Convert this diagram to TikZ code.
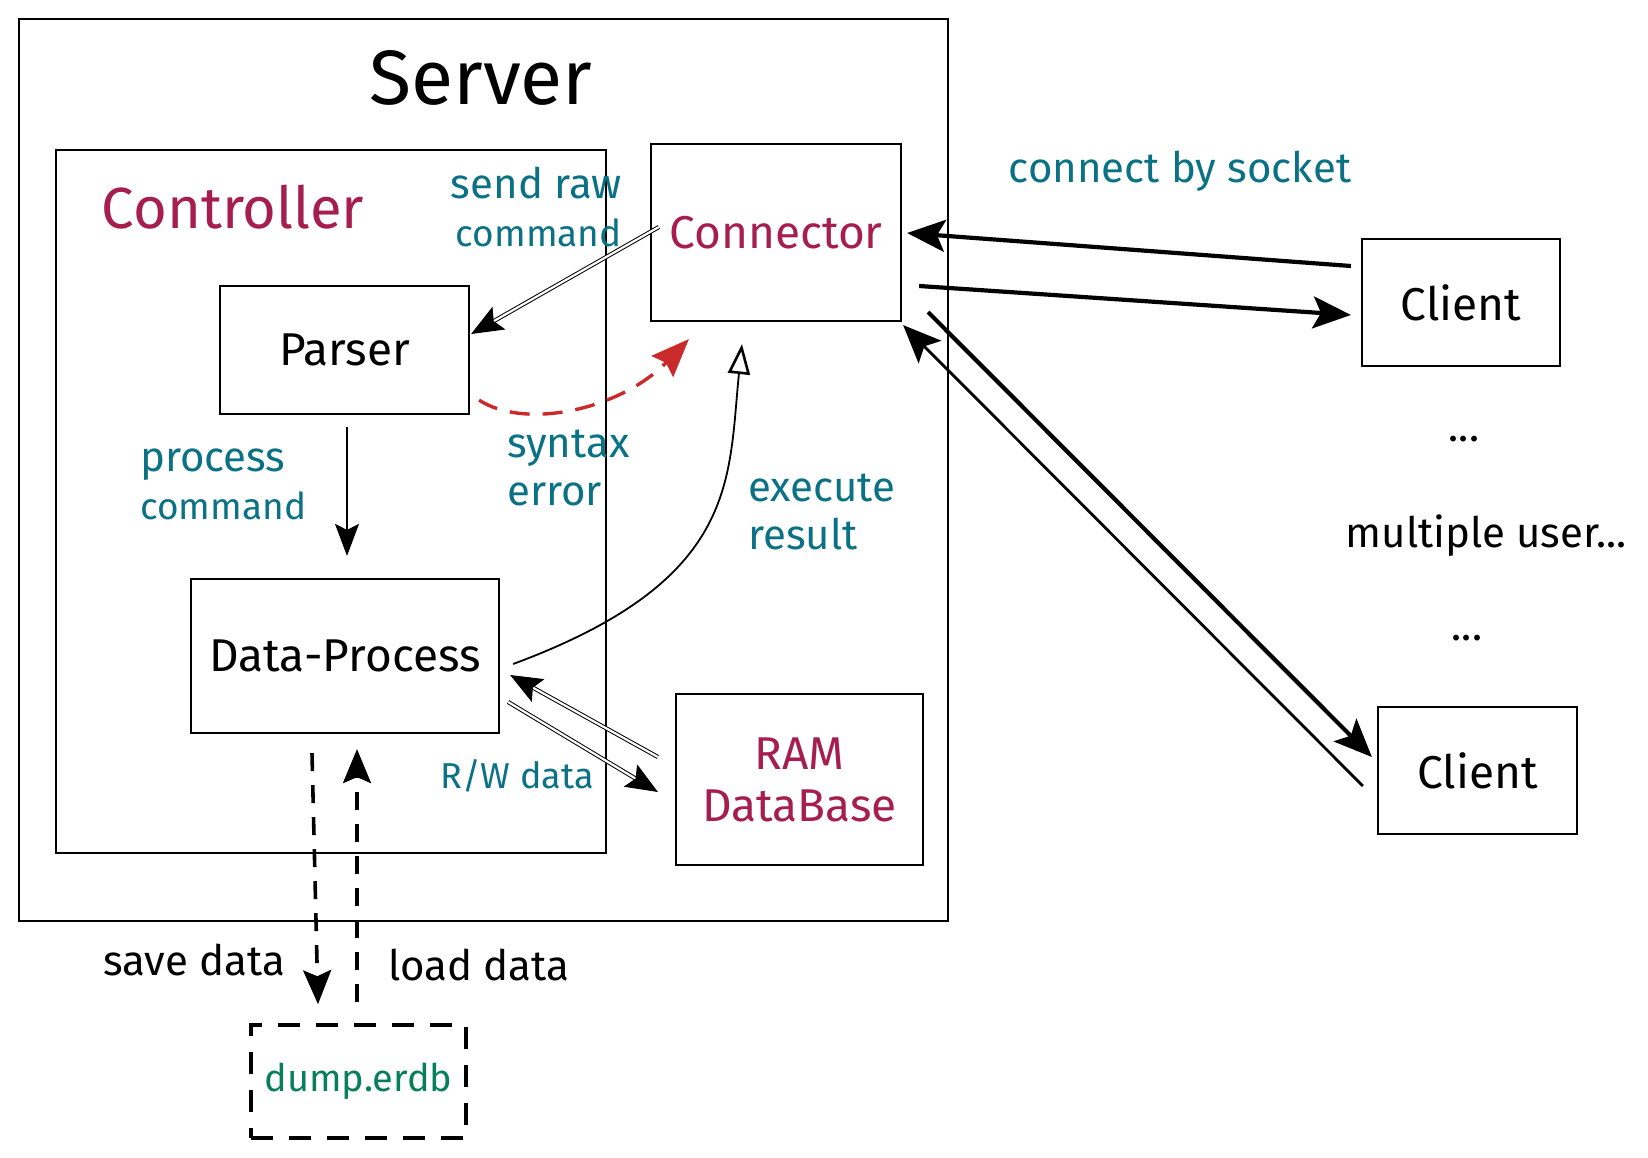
\documentclass[tikz,border=0pt]{standalone}
\usepackage{fontspec}
\setmainfont{Fira Sans}
\usetikzlibrary{arrows.meta,calc}

\definecolor{labelteal}{HTML}{0B7285}
\definecolor{titlepink}{HTML}{A61E4D}
\definecolor{errred}{HTML}{C92A2A}
\definecolor{filegreen}{HTML}{087F5B}

\newcommand{\cmdword}{{\fontsize{37}{48}\selectfont command}}

\tikzset{
  box/.style={draw=black, line width=2.2pt, inner sep=0pt, align=center,
    font=\fontsize{46}{52}\selectfont},
  filebox/.style={box, dashed, dash pattern=on 22pt off 16pt, line width=3.6pt,
    text=filegreen, font=\fontsize{38}{44}\selectfont},
  note/.style={text=labelteal, inner sep=0pt, font=\fontsize{42}{48}\selectfont},
  plain/.style={text=black, inner sep=0pt, font=\fontsize{42}{48}\selectfont},
  tip/.style={-{Stealth[length=38pt,width=32pt,inset=8pt]}},
  thinlink/.style={-{Stealth[length=32pt,width=24pt,inset=6pt]}, line width=1.6pt},
  twolink/.style={-{Stealth[length=32pt,width=26pt,inset=6pt]}, line width=1pt,
    double=white, double distance=2.2pt},
  thicklink/.style={tip, line width=4.2pt},
  datalink/.style={-{Stealth[length=34pt,width=28pt,inset=6pt]}, line width=3.6pt,
    dash pattern=on 18pt off 14pt},
  errlink/.style={-{Stealth[length=38pt,width=30pt,inset=5pt]}, draw=errred,
    line width=3.4pt, dash pattern=on 20pt off 13pt},
}

\begin{document}
\begin{tikzpicture}[x=1pt,y=-1pt]
  \useasboundingbox (0,0) rectangle (1648,1158);
  \fill[white] (0,0) rectangle (1648,1158);

  % enclosing boxes
  \node[box, minimum width=929pt, minimum height=902pt] (server) at (483.5,470) {};
  \node[inner sep=0pt, font=\fontsize{77}{80}\selectfont] (servertitle) at (481,78) {Server};
  \node[box, minimum width=550pt, minimum height=703pt] (ctrl) at (331,501.5) {};
  \node[inner sep=0pt, text=titlepink, font=\fontsize{58}{64}\selectfont] (ctrltitle) at (233,207) {Controller};

  % components
  \node[box, text=titlepink, minimum width=250pt, minimum height=177pt] (conn) at (776,232.5) {Connector};
  \node[box, minimum width=249pt, minimum height=128pt] (parser) at (344.5,350) {Parser};
  \node[box, minimum width=308pt, minimum height=154pt] (dp) at (345,656) {Data-Process};
  \node[box, text=titlepink, minimum width=247pt, minimum height=171pt] (ram) at (799.5,779.5) {RAM\\DataBase};
  \node[box, minimum width=198pt, minimum height=127pt] (client1) at (1461,302.5) {Client};
  \node[box, minimum width=199pt, minimum height=127pt] (client2) at (1477.5,770.5) {Client};
  \node[filebox, minimum width=215pt, minimum height=113pt] (dump) at (358.5,1081.5) {dump.erdb};

  % labels
  \node[note, align=right, anchor=east] (sendlbl) at (622,207) {send raw\\\cmdword};
  \node[note, anchor=center] (socklbl) at (1180,171) {connect by socket};
  \node[note, align=left, anchor=west] (proclbl) at (140,484) {process\\\cmdword};
  \node[note, align=left, anchor=west] (synlbl) at (507,468) {syntax\\error};
  \node[note, align=left, anchor=west] (execlbl) at (748,512) {execute\\result};
  \node[note, anchor=center, font=\fontsize{36}{40}\selectfont] (rwlbl) at (517,776) {R/W data};
  \node[plain] (dots1) at (1464,439) {...};
  \node[plain] (multi) at (1486,536) {multiple user...};
  \node[plain] (dots2) at (1467,638) {...};
  \node[plain] (savelbl) at (194,960) {save data};
  \node[plain] (loadlbl) at (479,965) {load data};

  % command flow inside the server
  \draw[twolink] ([shift={(9,-5.5)}]conn.west) -- ([shift={(1,-16)}]parser.east);
  \draw[thinlink] ([shift={(2.5,12)}]parser.south) -- ([shift={(2,-22)}]dp.north);
  \draw[errlink] ([shift={(9,-15)}]parser.south east)
    .. controls (525,430) and (620,410) .. ([shift={(39,17)}]conn.south west);
  \draw[line width=1.8pt, -{Triangle[open,length=30pt,width=22pt,line width=2.6pt]}]
    ([shift={(13,8)}]dp.east)
    .. controls (740,580) and (728,480) .. ([shift={(-34,22)}]conn.south);

  % reading and writing the in-memory store
  \draw[twolink] ([shift={(-17,-22.5)}]ram.west) -- ([shift={(10,19)}]dp.east);
  \draw[twolink] ([shift={(8,46)}]dp.east) -- ([shift={(-17,12.5)}]ram.west);

  % socket traffic with the clients
  \draw[thicklink] ([shift={(-10,-36.5)}]client1.west) -- ([shift={(5,0.5)}]conn.east);
  \draw[thicklink] ([shift={(17,53.5)}]conn.east) -- ([shift={(-10,12.5)}]client1.west);
  \draw[thicklink] ([shift={(26,-10)}]conn.south east) -- ([shift={(-5,-13.5)}]client2.west);
  \draw[tip, line width=2.8pt] ([shift={(-14,15.5)}]client2.west) -- ([shift={(1,3)}]conn.south east);

  % persistence to the dump file
  \draw[datalink] ([shift={(-33,19)}]dp.south) -- ([shift={(-40.5,-19)}]dump.north);
  \draw[datalink] ([shift={(-1.5,-21)}]dump.north) -- ([shift={(12,15)}]dp.south);
\end{tikzpicture}
\end{document}
